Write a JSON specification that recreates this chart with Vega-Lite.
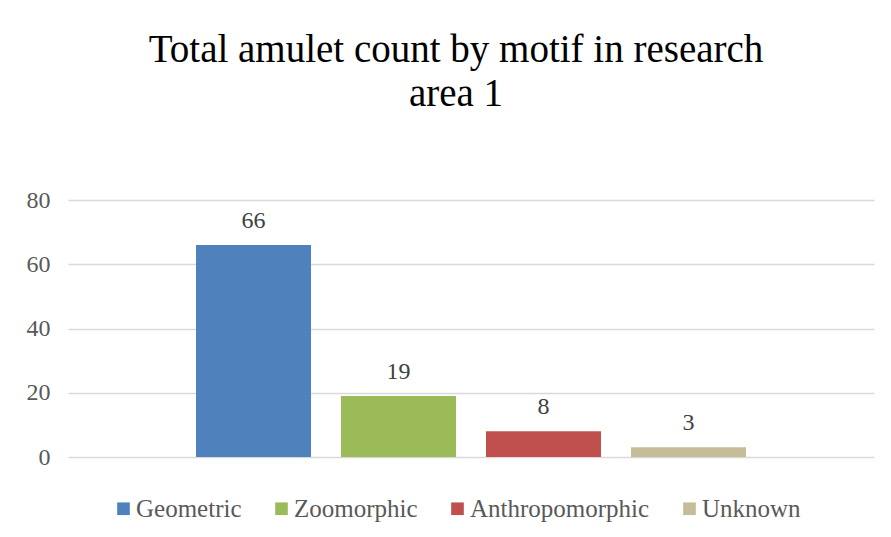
{
  "$schema": "https://vega.github.io/schema/vega-lite/v6.json",
  "width": 806,
  "height": 257,
  "autosize": {"type": "none"},
  "padding": {"left": 68, "top": 200, "right": 17, "bottom": 80},
  "background": "white",
  "title": {
    "text": ["Total amulet count by motif in research", "area 1"],
    "font": "Liberation Serif",
    "fontSize": 39,
    "fontWeight": "normal",
    "color": "#000000",
    "anchor": "middle",
    "dx": -15,
    "offset": 74,
    "lineHeight": 44
  },
  "data": {
    "values": [
      {"motif": "Geometric", "count": 66},
      {"motif": "Zoomorphic", "count": 19},
      {"motif": "Anthropomorphic", "count": 8},
      {"motif": "Unknown", "count": 3}
    ]
  },
  "config": {
    "view": {"stroke": null},
    "font": "Liberation Serif"
  },
  "encoding": {
    "x": {
      "field": "motif",
      "type": "nominal",
      "sort": null,
      "axis": null,
      "scale": {"paddingInner": 0.207, "paddingOuter": 0.883}
    },
    "y": {
      "field": "count",
      "type": "quantitative",
      "scale": {"domain": [0, 80]},
      "axis": {
        "values": [0, 20, 40, 60, 80],
        "title": null,
        "domain": false,
        "ticks": false,
        "labelPadding": 18,
        "labelFont": "Liberation Serif",
        "labelFontSize": 24,
        "labelColor": "#595959",
        "gridColor": "#D9D9D9",
        "gridWidth": 1.3
      }
    }
  },
  "layer": [
    {
      "mark": {"type": "bar"},
      "encoding": {
        "color": {
          "field": "motif",
          "type": "nominal",
          "sort": null,
          "scale": {
            "domain": ["Geometric", "Zoomorphic", "Anthropomorphic", "Unknown"],
            "range": ["#4F81BD", "#9BBB59", "#C0504D", "#C4BD97"]
          },
          "legend": {
            "title": null,
            "orient": "none",
            "direction": "horizontal",
            "legendX": 43,
            "legendY": 296,
            "symbolType": "square",
            "symbolSize": 160,
            "symbolStrokeWidth": 0,
            "labelFont": "Liberation Serif",
            "labelFontSize": 25,
            "labelColor": "#595959",
            "labelOffset": 0,
            "labelLimit": 400,
            "columnPadding": 27
          }
        }
      }
    },
    {
      "mark": {
        "type": "text",
        "baseline": "bottom",
        "dy": -12,
        "font": "Liberation Serif",
        "fontSize": 24,
        "color": "#404040"
      },
      "encoding": {
        "text": {"field": "count", "type": "quantitative"}
      }
    }
  ]
}
